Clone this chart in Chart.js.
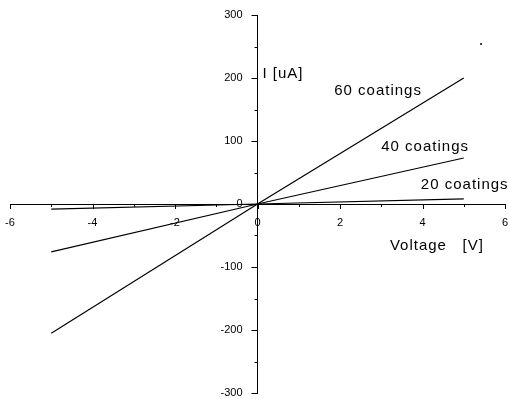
<!DOCTYPE html>
<html>
<head>
<meta charset="utf-8">
<script src="https://cdn.jsdelivr.net/npm/chart.js@4/dist/chart.umd.min.js"></script>
<style>
	html, body { margin: 0; padding: 0; background: #fff; }
	#wrap { width: 509px; height: 399px; }
</style>
</head>
<body>
<div id="wrap"><canvas id="ivChart"></canvas></div>
<script>
// данные
const voltage = [-5, 0, 5];
const coat60 = [-205, 0, 200];
const coat40 = [-76, 0, 73];
const coat20 = [-8, 0, 8];
const strayDot = [{ x: 5.42, y: 254 }];
const xTicks = [-6, -4, -2, 0, 2, 4, 6];
const yTicks = [-300, -200, -100, 0, 100, 200, 300];
const seriesNames = ['60 coatings', '40 coatings', '20 coatings'];
const axisTitles = ['Voltage   [V]', 'I [uA]'];

const toPoints = (vals) => voltage.map((v, i) => ({ x: v, y: vals[i] }));
const FONT = '"Liberation Sans", Arial, sans-serif';

// деления, подписи делений и надписи рисуем сами
const notesPlugin = {
	id: 'notes',
	afterDraw(chart) {
		const { ctx, scales: { x, y } } = chart;
		const x0 = x.getPixelForValue(0);
		const y0 = y.getPixelForValue(0);
		ctx.save();
		ctx.strokeStyle = '#000';
		ctx.lineWidth = 1;
		ctx.beginPath();
		for (let v = -6; v <= 6; v++) {
			const px = Math.round(x.getPixelForValue(v)) + 0.5;
			const len = v % 2 === 0 ? 5 : 3;
			ctx.moveTo(px, y0);
			ctx.lineTo(px, y0 + len);
		}
		for (let v = -300; v <= 300; v += 50) {
			const py = Math.round(y.getPixelForValue(v)) + 0.5;
			const len = v % 100 === 0 ? 6 : 3;
			ctx.moveTo(x0, py);
			ctx.lineTo(x0 - len, py);
		}
		ctx.stroke();

		ctx.fillStyle = '#000';
		ctx.font = '11px ' + FONT;
		ctx.textBaseline = 'middle';
		ctx.textAlign = 'center';
		xTicks.forEach(v => ctx.fillText(String(v), x.getPixelForValue(v), y0 + 19));
		ctx.textAlign = 'right';
		yTicks.forEach(v => ctx.fillText(String(v), x0 - 15, y.getPixelForValue(v)));

		ctx.font = '15px ' + FONT;
		ctx.letterSpacing = '1px';
		ctx.textAlign = 'left';
		const notes = [
			[seriesNames[0], 1.86, 180],
			[seriesNames[1], 3.0, 90],
			[seriesNames[2], 3.96, 30],
			[axisTitles[0], 3.21, -66],
			[axisTitles[1], 0.12, 207]
		];
		notes.forEach(([txt, vx, vy]) => {
			ctx.fillText(txt, x.getPixelForValue(vx), y.getPixelForValue(vy));
		});
		ctx.restore();
	}
};

const lineDs = (label, vals) => ({
	label: label,
	data: toPoints(vals),
	showLine: true,
	borderColor: '#000',
	borderWidth: 1.2,
	pointRadius: 0,
	fill: false
});

new Chart(document.getElementById('ivChart'), {
	type: 'scatter',
	data: {
		datasets: [
			lineDs(seriesNames[0], coat60),
			lineDs(seriesNames[1], coat40),
			lineDs(seriesNames[2], coat20),
			{
				label: 'dot',
				data: strayDot,
				pointRadius: 1,
				pointBackgroundColor: '#000',
				pointBorderWidth: 0
			}
		]
	},
	options: {
		responsive: true,
		maintainAspectRatio: false,
		animation: false,
		layout: { padding: { left: 10, right: 3, top: 15, bottom: 6 } },
		scales: {
			x: {
				type: 'linear',
				position: { y: 0 },
				min: -6,
				max: 6,
				afterBuildTicks: (s) => { s.ticks = xTicks.map(v => ({ value: v })); },
				grid: { display: true, drawOnChartArea: false, drawTicks: false, color: '#000' },
				border: { display: true, color: '#000', width: 1 },
				ticks: { display: false }
			},
			y: {
				type: 'linear',
				position: { x: 0 },
				min: -300,
				max: 300,
				afterBuildTicks: (s) => { s.ticks = yTicks.map(v => ({ value: v })); },
				grid: { display: true, drawOnChartArea: false, drawTicks: false, color: '#000' },
				border: { display: true, color: '#000', width: 1 },
				ticks: { display: false }
			}
		},
		plugins: {
			legend: { display: false },
			tooltip: { enabled: false }
		}
	},
	plugins: [notesPlugin]
});
</script>
</body>
</html>
